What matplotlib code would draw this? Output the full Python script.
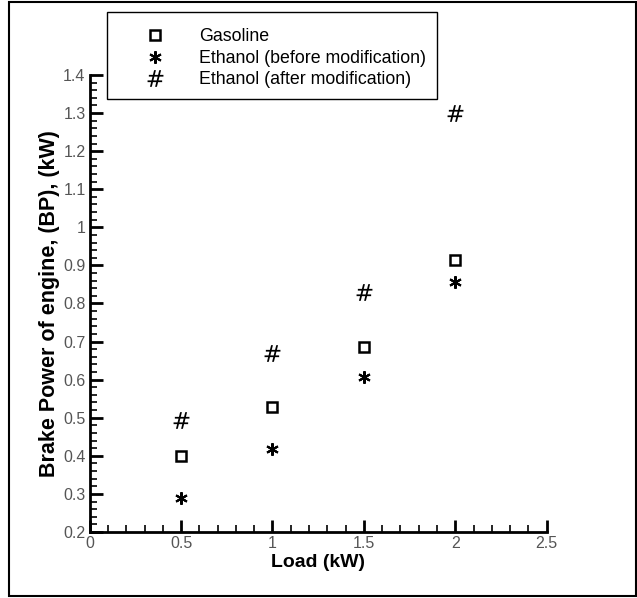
import numpy as np
import matplotlib.pyplot as plt
from matplotlib.ticker import MultipleLocator
from matplotlib.patches import Rectangle

plt.rcParams['font.family'] = ['Liberation Sans', 'DejaVu Sans']

load = np.array([0.5, 1.0, 1.5, 2.0])
bp_gasoline = np.array([0.40, 0.528, 0.686, 0.914])
bp_eth_before = np.array([0.289, 0.418, 0.607, 0.856])
bp_eth_after = np.array([0.494, 0.67, 0.83, 1.30])

fig = plt.figure(figsize=(6.37, 5.98), dpi=100)
ax = fig.add_axes([0.1408, 0.1104, 0.7174, 0.7642])

ax.plot(load, bp_gasoline, ls='none', marker='s', ms=7, mfc='none', mec='black', mew=1.8,
        label='Gasoline')
ax.plot(load, bp_eth_before, ls='none', marker=(6, 2, 0), ms=9, mec='black', mew=1.5,
        label='Ethanol (before modification)')
ax.plot(load, bp_eth_after, ls='none', marker=r'$\#$', ms=12, color='black', mew=0,
        label='Ethanol (after modification)')

ax.set_xlim(0, 2.5)
ax.set_ylim(0.2, 1.4)
ax.xaxis.set_minor_locator(MultipleLocator(0.1))
ax.yaxis.set_minor_locator(MultipleLocator(0.02))
ax.set_xticks(np.arange(0, 2.51, 0.5))
ax.set_xticklabels(['0', '0.5', '1', '1.5', '2', '2.5'])
ax.set_yticks(np.arange(0.2, 1.41, 0.1))
ax.set_yticklabels(['0.2', '0.3', '0.4', '0.5', '0.6', '0.7', '0.8', '0.9', '1',
                    '1.1', '1.2', '1.3', '1.4'])

for s in ['top', 'right']:
    ax.spines[s].set_visible(False)
for s in ['left', 'bottom']:
    ax.spines[s].set_linewidth(2)
ax.tick_params(which='major', direction='in', length=9, width=2, labelsize=11.5,
               labelcolor='#555555', pad=3)
ax.tick_params(which='minor', direction='in', length=5, width=1.2)

ax.set_xlabel('Load (kW)', fontsize=14, fontweight='bold', labelpad=2)
ax.set_ylabel('Brake Power of engine, (BP), (kW)', fontsize=15.5, fontweight='bold',
              labelpad=2)

leg = ax.legend(loc='upper left', bbox_to_anchor=(107 / 637, 1 - 12 / 598),
                bbox_transform=fig.transFigure, fontsize=12.8, frameon=True,
                fancybox=False, edgecolor='black', framealpha=1, borderpad=0.62,
                handlelength=4.15, handletextpad=0.42, labelspacing=0.25,
                borderaxespad=0, numpoints=1, title=' ', title_fontsize=1)
leg.get_frame().set_linewidth(1)

fig.patches.append(Rectangle((9 / 637, 2 / 598), 627 / 637, 594 / 598,
                             transform=fig.transFigure, fill=False,
                             edgecolor='black', lw=1.5))

fig.savefig('out.png', dpi=100)
